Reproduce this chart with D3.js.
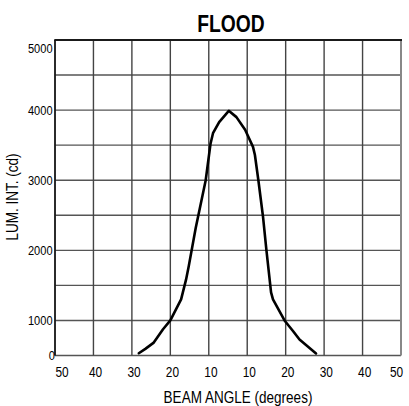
<!DOCTYPE html>
<html>
<head>
<meta charset="utf-8">
<script src="https://cdn.jsdelivr.net/npm/d3@7"></script>
<style>
  body { margin: 0; background: #fff; }
  svg { display: block; }
  text { font-family: "Liberation Sans", Arial, sans-serif; fill: #000; }
</style>
</head>
<body>
<div id="chart"></div>
<script>
// beam angle (left side negative), luminous intensity in cd
const angles = [-28.2, -26.5, -24.4, -21.9, -20, -17.2, -15.9, -15.2, -13.4, -10.8, -9.1, -7.8, -4.6, 0.4, 4.4, 8.9, 11.5, 12.0, 12.9, 14.1, 15.0, 16.2, 16.7, 19.7, 21.9, 23.6, 27.9];
const intensity = [65, 190, 360, 750, 1000, 1300, 1585, 1776, 2320, 3000, 3520, 3670, 3830, 3990, 3900, 3720, 3476, 3360, 3000, 2483, 2000, 1400, 1300, 1000, 700, 456, 60];

const xTicks = [-50, -40, -30, -20, -10, 10, 20, 30, 40, 50];
const xTickLabels = ["50", "40", "30", "20", "10", "10", "20", "30", "40", "50"];
const yTicks = [0, 1000, 2000, 3000, 4000, 5000];
const yGrid = [0, 1000, 1500, 2000, 2500, 3000, 3500, 4000, 4500, 5000];

const W = 409, H = 406;
const plotL = 55, plotR = 401, plotT = 40, plotB = 355.5;
const narrow = "scale(0.82,1)"; // squeeze text like a narrow face

const svg = d3.select("#chart").append("svg")
    .attr("width", W)
    .attr("height", H);

// column width is the same everywhere, the middle column spans -10..10
const col = (plotR - plotL) / 9;
const x = d3.scaleLinear()
    .domain([-50, -10, 10, 50])
    .range([plotL, plotL + 4 * col, plotL + 5 * col, plotR]);

// bottom band 0..1000 is only half a cell
const half = (plotB - plotT) / 9;
const y = d3.scaleLinear()
    .domain([0, 1000, 5000])
    .range([plotB, plotB - half, plotT]);

// grid
const grid = svg.append("g").attr("class", "grid");
grid.selectAll(".hline").data(yGrid).enter()
    .append("line").attr("class", "hline")
    .attr("x1", plotL).attr("x2", plotR)
    .attr("y1", d => y(d)).attr("y2", d => y(d))
    .attr("stroke", "#555")
    .attr("stroke-width", 1.4);
grid.selectAll(".vline").data(xTicks).enter()
    .append("line").attr("class", "vline")
    .attr("x1", d => x(d)).attr("x2", d => x(d))
    .attr("y1", plotT).attr("y2", plotB)
    .attr("stroke", d => d === 50 ? "#888" : "#444")
    .attr("stroke-width", d => d === 50 ? 2 : 1.4);

// top border a bit heavier
svg.append("line")
    .attr("x1", plotL - 0.7).attr("x2", plotR + 1)
    .attr("y1", plotT).attr("y2", plotT)
    .attr("stroke", "#1a1a1a")
    .attr("stroke-width", 2.2);
svg.append("line")
    .attr("x1", plotL).attr("x2", plotL)
    .attr("y1", plotT).attr("y2", plotB)
    .attr("stroke", "#111")
    .attr("stroke-width", 1.5);

// x axis
const xAxis = svg.append("g")
    .attr("transform", "translate(0," + plotB + ")")
    .call(d3.axisBottom(x)
        .tickValues(xTicks)
        .tickFormat((d, i) => xTickLabels[i])
        .tickSize(0)
        .tickPadding(11));
xAxis.select(".domain").remove();
xAxis.attr("font-family", null).attr("font-size", null);
xAxis.selectAll("text")
    .attr("font-size", 14.5)
    .attr("transform", narrow)
    .attr("text-anchor", (d, i) => i === 0 ? "start" : (i === xTicks.length - 1 ? "end" : "middle"))
    .attr("dx", (d, i) => i === 0 ? 0 : 2);

// y axis
const yAxis = svg.append("g")
    .attr("transform", "translate(" + plotL + ",0)")
    .call(d3.axisLeft(y)
        .tickValues(yTicks)
        .tickFormat(d3.format("d"))
        .tickSize(0)
        .tickPadding(3));
yAxis.select(".domain").remove();
yAxis.attr("font-family", null).attr("font-size", null);
yAxis.selectAll("text")
    .attr("font-size", 13.5)
    .attr("transform", narrow)
    .attr("dy", d => d === 5000 ? "0.95em" : "0.32em")
    .attr("dx", d => d === 0 ? 3 : 0);

// curve
const line = d3.line()
    .x((d, i) => x(angles[i]))
    .y(d => y(d));
svg.append("path")
    .datum(intensity)
    .attr("d", line)
    .attr("fill", "none")
    .attr("stroke", "#000")
    .attr("stroke-width", 2.6)
    .attr("stroke-linejoin", "round")
    .attr("stroke-linecap", "round");

// title and labels
svg.append("text")
    .attr("transform", "translate(231,31.5) " + narrow)
    .attr("text-anchor", "middle")
    .attr("font-size", 23.5)
    .attr("font-weight", "bold")
    .text("FLOOD");

svg.append("text")
    .attr("transform", "translate(238,403) " + narrow)
    .attr("text-anchor", "middle")
    .attr("font-size", 16.5)
    .text("BEAM ANGLE (degrees)");

svg.append("text")
    .attr("transform", "translate(18,197) rotate(-90) " + narrow)
    .attr("text-anchor", "middle")
    .attr("font-size", 16.5)
    .text("LUM. INT. (cd)");
</script>
</body>
</html>
